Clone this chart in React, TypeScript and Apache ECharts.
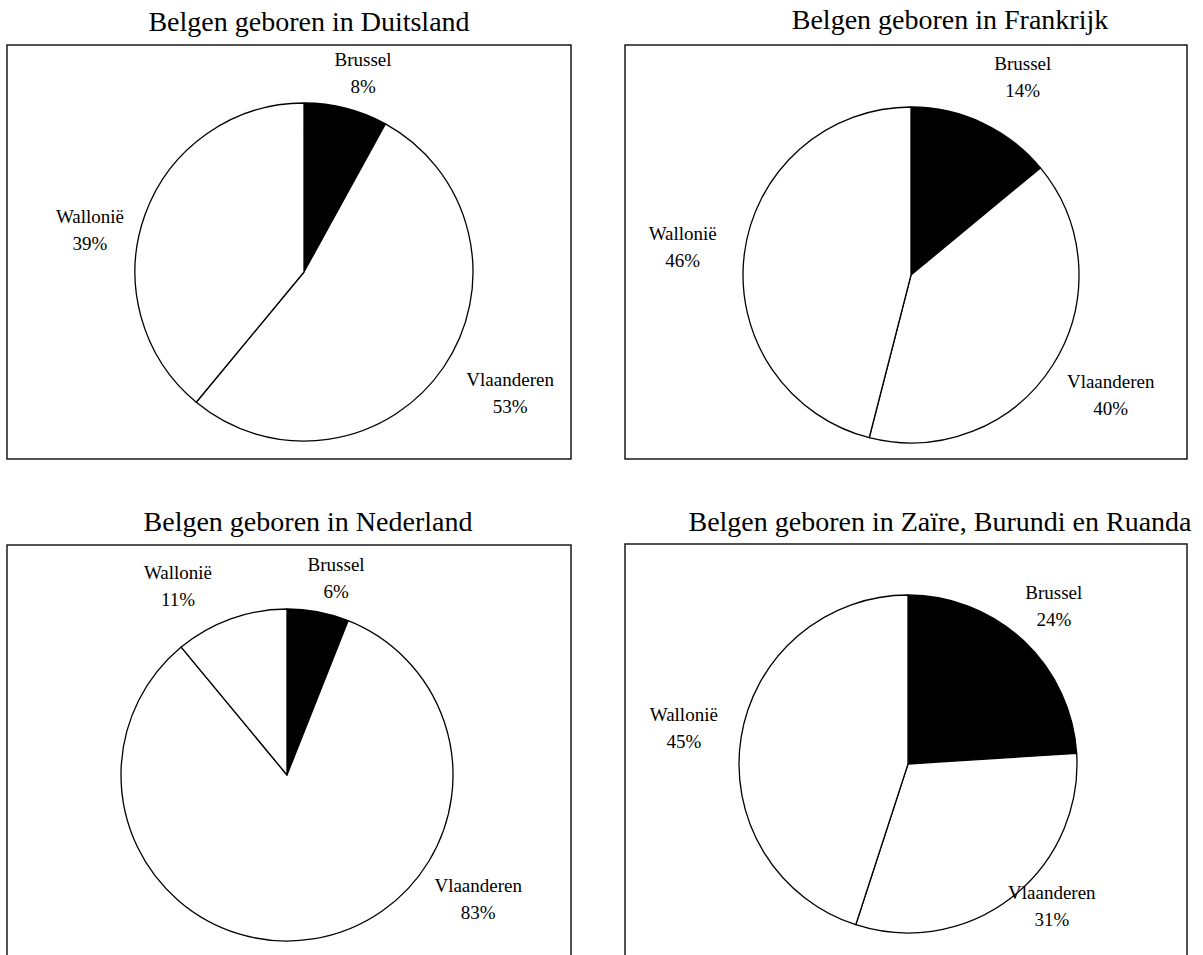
import React, { useEffect, useRef } from "react";
import * as echarts from "echarts";

const categories = ["Brussel", "Vlaanderen", "Wallonië"];
const titles = [
  "Belgen geboren in Duitsland",
  "Belgen geboren in Frankrijk",
  "Belgen geboren in Nederland",
  "Belgen geboren in Zaïre, Burundi en Ruanda",
];
const duitsland = [8, 53, 39];
const frankrijk = [14, 40, 46];
const nederland = [6, 83, 11];
const zaire = [24, 31, 45];
const seriesValues = [duitsland, frankrijk, nederland, zaire];

// layout (positions, sizes) - not data
const panels = [
  { box: [7, 45, 564, 414], title: [309, 21], center: [304, 272], r: 169,
    labels: [[16.5, 208], [120.4, 239], [281, 218]] },
  { box: [625, 45, 562, 414], title: [950, 19], center: [911, 275], r: 168,
    labels: [[29.5, 227], [121, 233], [277, 230]] },
  { box: [7, 545, 564, 430], title: [308, 521], center: [287, 775], r: 166,
    labels: [[14, 203], [123, 228], [330, 218]] },
  { box: [625, 544, 562, 430], title: [940, 521], center: [908, 764], r: 169,
    labels: [[42.7, 215], [134.6, 202], [279, 227]] },
];

const FONT = "'Liberation Serif', 'Times New Roman', serif";

export default function App() {
  const ref = useRef<HTMLDivElement>(null);
  useEffect(() => {
    document.body.style.margin = "0";
    const chart = echarts.init(ref.current!, null, { renderer: "svg" });
    const graphic: any[] = [];
    panels.forEach((p, i) => {
      graphic.push({
        type: "rect",
        z: 0,
        silent: true,
        shape: { x: p.box[0], y: p.box[1], width: p.box[2], height: p.box[3] },
        style: { fill: "none", stroke: "#1a1a1a", lineWidth: 1.5 },
      });
      graphic.push({
        type: "text",
        silent: true,
        x: p.title[0],
        y: p.title[1],
        style: {
          text: titles[i],
          fill: "#000",
          font: `28px ${FONT}`,
          textAlign: "center",
          textVerticalAlign: "middle",
        },
      });
    });
    const series = panels.map((p, i) => ({
      type: "pie",
      silent: true,
      center: p.center,
      radius: p.r,
      startAngle: 90,
      clockwise: true,
      avoidLabelOverlap: false,
      z: 3,
      itemStyle: { borderColor: "#000", borderWidth: 1.3 },
      label: {
        show: true,
        position: "outside",
        formatter: "{b}\n{c}%",
        fontFamily: FONT,
        fontSize: 19,
        lineHeight: 27,
        color: "#000",
      },
      labelLine: { show: false },
      labelLayout: (params: any) => {
        const [ang, d] = p.labels[params.dataIndex];
        const t = (ang * Math.PI) / 180;
        return {
          x: p.center[0] + d * Math.sin(t),
          y: p.center[1] - d * Math.cos(t),
          align: "center",
          verticalAlign: "middle",
        };
      },
      emphasis: { disabled: true },
      data: categories.map((c, k) => ({
        name: c,
        value: seriesValues[i][k],
        itemStyle: { color: k === 0 ? "#000" : "#fff" },
      })),
    }));
    chart.setOption({
      animation: false,
      backgroundColor: "#fff",
      graphic,
      series,
    });
    return () => chart.dispose();
  }, []);
  return (
    <div
      ref={ref}
      style={{ position: "absolute", left: 0, top: 0, width: 1203, height: 955 }}
    />
  );
}
